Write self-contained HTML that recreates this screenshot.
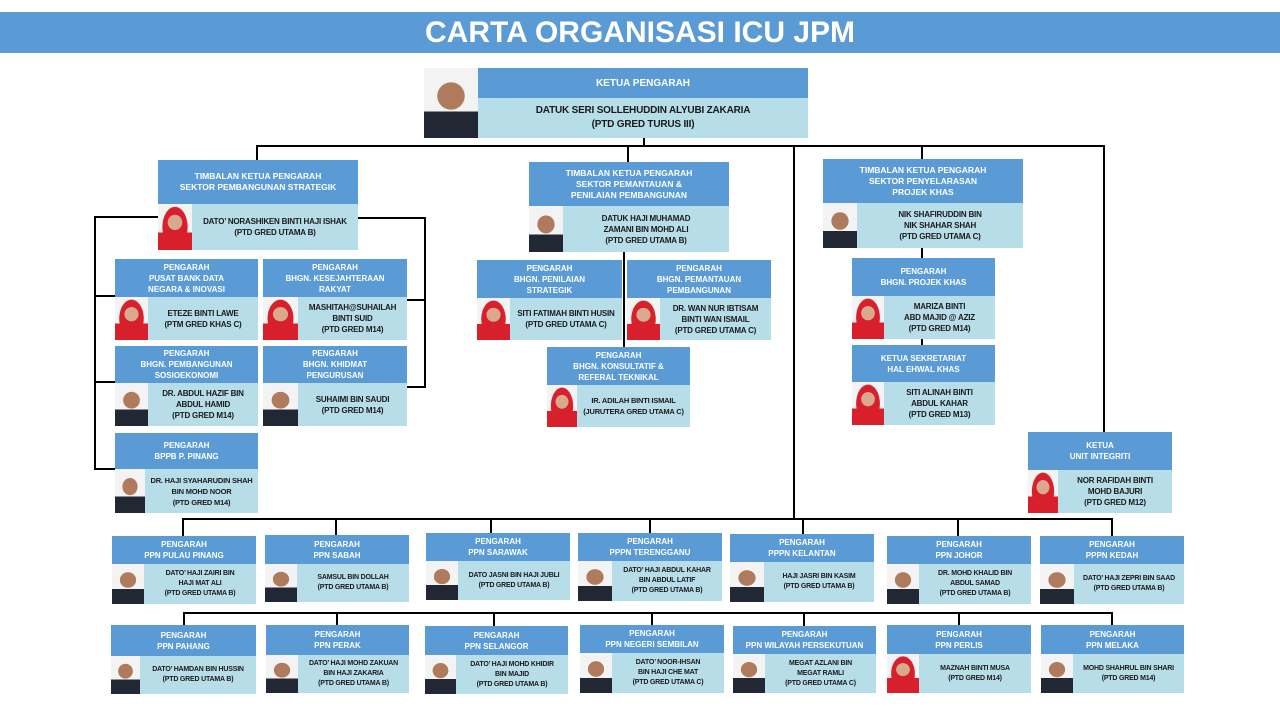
<!DOCTYPE html>
<html><head><meta charset="utf-8"><style>
*{margin:0;padding:0;box-sizing:border-box}
body{width:1280px;height:720px;background:#fff;position:relative;overflow:hidden;font-family:"Liberation Sans",sans-serif;font-weight:bold}
.t{position:absolute;left:0;top:12px;width:1280px;height:41px;background:#5b9bd5;color:#fff;font-size:30px;text-align:center;line-height:41px}
.c{position:absolute}
.h{background:#5b9bd5;color:#fff;font-size:8px;line-height:11px;text-align:center;display:flex;align-items:center;justify-content:center}
.b{background:#b7dde8;color:#1a1a1a;font-size:8px;line-height:11px;text-align:center;display:flex;align-items:center;position:relative;letter-spacing:-0.2px}
.b .x{flex:1;text-align:center;white-space:nowrap}
.p{height:100%;flex:none;background:radial-gradient(ellipse 26% 20% at 50% 40%,#b07a5c 0 95%,transparent 100%),linear-gradient(to bottom,#f3f3f3 62%,#222833 62%)}
.f{background:radial-gradient(ellipse 22% 17% at 50% 40%,#d9a98e 0 95%,transparent 100%),radial-gradient(ellipse 38% 45% at 50% 50%,#d8202c 0 95%,transparent 100%),linear-gradient(to bottom,#f3f3f3 62%,#d8202c 62%)}
.l{position:absolute;background:#000}
</style></head><body>
<div class="t">CARTA ORGANISASI ICU JPM</div>

<div class="l" style="left:643px;top:138px;width:2px;height:9px"></div>
<div class="l" style="left:257px;top:145px;width:848px;height:2px"></div>
<div class="l" style="left:256px;top:145px;width:2px;height:16px"></div>
<div class="l" style="left:627px;top:145px;width:2px;height:18px"></div>
<div class="l" style="left:793px;top:145px;width:2px;height:375px"></div>
<div class="l" style="left:921px;top:145px;width:2px;height:15px"></div>
<div class="l" style="left:1103px;top:145px;width:2px;height:288px"></div>
<div class="l" style="left:94px;top:216px;width:2px;height:254px"></div>
<div class="l" style="left:94px;top:216px;width:64px;height:2px"></div>
<div class="l" style="left:94px;top:295px;width:21px;height:2px"></div>
<div class="l" style="left:94px;top:381px;width:21px;height:2px"></div>
<div class="l" style="left:94px;top:468px;width:21px;height:2px"></div>
<div class="l" style="left:424px;top:217px;width:2px;height:171px"></div>
<div class="l" style="left:358px;top:217px;width:67px;height:2px"></div>
<div class="l" style="left:407px;top:299px;width:18px;height:2px"></div>
<div class="l" style="left:407px;top:386px;width:18px;height:2px"></div>
<div class="l" style="left:623px;top:252px;width:2px;height:96px"></div>
<div class="l" style="left:921px;top:248px;width:2px;height:11px"></div>
<div class="l" style="left:921px;top:339px;width:2px;height:7px"></div>
<div class="l" style="left:182px;top:518px;width:931px;height:2px"></div>
<div class="l" style="left:182px;top:518px;width:2px;height:18px"></div>
<div class="l" style="left:335px;top:518px;width:2px;height:18px"></div>
<div class="l" style="left:490px;top:518px;width:2px;height:16px"></div>
<div class="l" style="left:649px;top:518px;width:2px;height:16px"></div>
<div class="l" style="left:802px;top:518px;width:2px;height:17px"></div>
<div class="l" style="left:957px;top:518px;width:2px;height:18px"></div>
<div class="l" style="left:1111px;top:518px;width:2px;height:18px"></div>
<div class="l" style="left:183px;top:612px;width:930px;height:2px"></div>
<div class="l" style="left:183px;top:612px;width:2px;height:13px"></div>
<div class="l" style="left:336px;top:612px;width:2px;height:13px"></div>
<div class="l" style="left:493px;top:612px;width:2px;height:14px"></div>
<div class="l" style="left:651px;top:612px;width:2px;height:13px"></div>
<div class="l" style="left:803px;top:612px;width:2px;height:14px"></div>
<div class="l" style="left:958px;top:612px;width:2px;height:13px"></div>
<div class="l" style="left:1111px;top:612px;width:2px;height:13px"></div>

<div class="p" style="position:absolute;left:424px;top:68px;width:54px;height:70px"></div>
<div class="c" style="left:478px;top:68px;width:330px">
<div class="h" style="height:30px;font-size:10px">KETUA PENGARAH</div>
<div class="b" style="height:40px;font-size:10px;line-height:14px"><div class="x">DATUK SERI SOLLEHUDDIN ALYUBI ZAKARIA<br>(PTD GRED TURUS III)</div></div></div>

<div class="c" style="left:158px;top:160px;width:200px"><div class="h" style="height:44px;font-size:8.5px">TIMBALAN KETUA PENGARAH<br>SEKTOR PEMBANGUNAN STRATEGIK</div>
<div class="b" style="height:46px"><div class="p f" style="width:34px"></div><div class="x">DATO’ NORASHIKEN BINTI HAJI ISHAK<br>(PTD GRED UTAMA B)</div></div></div>
<div class="c" style="left:529px;top:162px;width:200px"><div class="h" style="height:44px;font-size:8.5px">TIMBALAN KETUA PENGARAH<br>SEKTOR PEMANTAUAN &amp;<br>PENILAIAN PEMBANGUNAN</div>
<div class="b" style="height:46px"><div class="p" style="width:34px"></div><div class="x">DATUK HAJI MUHAMAD<br>ZAMANI BIN MOHD ALI<br>(PTD GRED UTAMA B)</div></div></div>
<div class="c" style="left:823px;top:159px;width:200px"><div class="h" style="height:44px;font-size:8.5px">TIMBALAN KETUA PENGARAH<br>SEKTOR PENYELARASAN<br>PROJEK KHAS</div>
<div class="b" style="height:45px"><div class="p" style="width:34px"></div><div class="x">NIK SHAFIRUDDIN BIN<br>NIK SHAHAR SHAH<br>(PTD GRED UTAMA C)</div></div></div>

<div class="c" style="left:115px;top:259px;width:143px"><div class="h" style="height:38px">PENGARAH<br>PUSAT BANK DATA<br>NEGARA &amp; INOVASI</div>
<div class="b" style="height:43px"><div class="p f" style="width:33px"></div><div class="x">ETEZE BINTI LAWE<br>(PTM GRED KHAS C)</div></div></div>
<div class="c" style="left:263px;top:259px;width:144px"><div class="h" style="height:38px">PENGARAH<br>BHGN. KESEJAHTERAAN<br>RAKYAT</div>
<div class="b" style="height:43px"><div class="p f" style="width:35px"></div><div class="x">MASHITAH@SUHAILAH<br>BINTI SUID<br>(PTD GRED M14)</div></div></div>
<div class="c" style="left:115px;top:346px;width:143px"><div class="h" style="height:37px">PENGARAH<br>BHGN. PEMBANGUNAN<br>SOSIOEKONOMI</div>
<div class="b" style="height:43px"><div class="p" style="width:33px"></div><div class="x">DR. ABDUL HAZIF BIN<br>ABDUL HAMID<br>(PTD GRED M14)</div></div></div>
<div class="c" style="left:263px;top:346px;width:144px"><div class="h" style="height:37px">PENGARAH<br>BHGN. KHIDMAT<br>PENGURUSAN</div>
<div class="b" style="height:43px"><div class="p" style="width:35px"></div><div class="x">SUHAIMI BIN SAUDI<br>(PTD GRED M14)</div></div></div>
<div class="c" style="left:115px;top:433px;width:143px"><div class="h" style="height:36px">PENGARAH<br>BPPB P. PINANG</div>
<div class="b" style="height:44px;font-size:7.5px"><div class="p" style="width:30px"></div><div class="x">DR. HAJI SYAHARUDIN SHAH<br>BIN MOHD NOOR<br>(PTD GRED M14)</div></div></div>

<div class="c" style="left:477px;top:260px;width:145px"><div class="h" style="height:38px">PENGARAH<br>BHGN. PENILAIAN<br>STRATEGIK</div>
<div class="b" style="height:42px"><div class="p f" style="width:33px"></div><div class="x">SITI FATIMAH BINTI HUSIN<br>(PTD GRED UTAMA C)</div></div></div>
<div class="c" style="left:627px;top:260px;width:144px"><div class="h" style="height:38px">PENGARAH<br>BHGN. PEMANTAUAN<br>PEMBANGUNAN</div>
<div class="b" style="height:42px"><div class="p f" style="width:33px"></div><div class="x">DR. WAN NUR IBTISAM<br>BINTI WAN ISMAIL<br>(PTD GRED UTAMA C)</div></div></div>
<div class="c" style="left:547px;top:347px;width:143px"><div class="h" style="height:38px">PENGARAH<br>BHGN. KONSULTATIF &amp;<br>REFERAL TEKNIKAL</div>
<div class="b" style="height:42px;font-size:7.5px"><div class="p f" style="width:30px"></div><div class="x">IR. ADILAH BINTI ISMAIL<br>(JURUTERA GRED UTAMA C)</div></div></div>

<div class="c" style="left:852px;top:258px;width:143px"><div class="h" style="height:38px">PENGARAH<br>BHGN. PROJEK KHAS</div>
<div class="b" style="height:43px"><div class="p f" style="width:32px"></div><div class="x">MARIZA BINTI<br>ABD MAJID @ AZIZ<br>(PTD GRED M14)</div></div></div>
<div class="c" style="left:852px;top:345px;width:143px"><div class="h" style="height:37px">KETUA SEKRETARIAT<br>HAL EHWAL KHAS</div>
<div class="b" style="height:43px"><div class="p f" style="width:32px"></div><div class="x">SITI ALINAH BINTI<br>ABDUL KAHAR<br>(PTD GRED M13)</div></div></div>
<div class="c" style="left:1028px;top:432px;width:144px"><div class="h" style="height:38px">KETUA<br>UNIT INTEGRITI</div>
<div class="b" style="height:43px"><div class="p f" style="width:30px"></div><div class="x">NOR RAFIDAH BINTI<br>MOHD BAJURI<br>(PTD GRED M12)</div></div></div>

<div class="c" style="left:112px;top:536px;width:144px"><div class="h" style="height:28px">PENGARAH<br>PPN PULAU PINANG</div>
<div class="b" style="height:40px;font-size:7px;line-height:10px"><div class="p" style="width:32px"></div><div class="x">DATO’ HAJI ZAIRI BIN<br>HAJI MAT ALI<br>(PTD GRED UTAMA B)</div></div></div>
<div class="c" style="left:265px;top:535px;width:144px"><div class="h" style="height:29px">PENGARAH<br>PPN SABAH</div>
<div class="b" style="height:38px;font-size:7px;line-height:10px"><div class="p" style="width:32px"></div><div class="x">SAMSUL BIN DOLLAH<br>(PTD GRED UTAMA B)</div></div></div>
<div class="c" style="left:426px;top:533px;width:144px"><div class="h" style="height:28px">PENGARAH<br>PPN SARAWAK</div>
<div class="b" style="height:39px;font-size:7px;line-height:10px"><div class="p" style="width:32px"></div><div class="x">DATO JASNI BIN HAJI JUBLI<br>(PTD GRED UTAMA B)</div></div></div>
<div class="c" style="left:578px;top:533px;width:144px"><div class="h" style="height:28px">PENGARAH<br>PPPN TERENGGANU</div>
<div class="b" style="height:40px;font-size:7px;line-height:10px"><div class="p" style="width:34px"></div><div class="x">DATO’ HAJI ABDUL KAHAR<br>BIN ABDUL LATIF<br>(PTD GRED UTAMA B)</div></div></div>
<div class="c" style="left:730px;top:534px;width:144px"><div class="h" style="height:28px">PENGARAH<br>PPPN KELANTAN</div>
<div class="b" style="height:40px;font-size:7px;line-height:10px"><div class="p" style="width:34px"></div><div class="x">HAJI JASRI BIN KASIM<br>(PTD GRED UTAMA B)</div></div></div>
<div class="c" style="left:887px;top:536px;width:144px"><div class="h" style="height:28px">PENGARAH<br>PPN JOHOR</div>
<div class="b" style="height:40px;font-size:7px;line-height:10px"><div class="p" style="width:32px"></div><div class="x">DR. MOHD KHALID BIN<br>ABDUL SAMAD<br>(PTD GRED UTAMA B)</div></div></div>
<div class="c" style="left:1040px;top:536px;width:144px"><div class="h" style="height:28px">PENGARAH<br>PPPN KEDAH</div>
<div class="b" style="height:40px;font-size:7px;line-height:10px"><div class="p" style="width:34px"></div><div class="x">DATO’ HAJI ZEPRI BIN SAAD<br>(PTD GRED UTAMA B)</div></div></div>

<div class="c" style="left:111px;top:625px;width:145px"><div class="h" style="height:31px">PENGARAH<br>PPN PAHANG</div>
<div class="b" style="height:38px;font-size:7px;line-height:10px"><div class="p" style="width:29px"></div><div class="x">DATO’ HAMDAN BIN HUSSIN<br>(PTD GRED UTAMA B)</div></div></div>
<div class="c" style="left:266px;top:625px;width:143px"><div class="h" style="height:30px">PENGARAH<br>PPN PERAK</div>
<div class="b" style="height:38px;font-size:7px;line-height:10px"><div class="p" style="width:32px"></div><div class="x">DATO’ HAJI MOHD ZAKUAN<br>BIN HAJI ZAKARIA<br>(PTD GRED UTAMA B)</div></div></div>
<div class="c" style="left:425px;top:626px;width:143px"><div class="h" style="height:29px">PENGARAH<br>PPN SELANGOR</div>
<div class="b" style="height:39px;font-size:7px;line-height:10px"><div class="p" style="width:31px"></div><div class="x">DATO’ HAJI MOHD KHIDIR<br>BIN MAJID<br>(PTD GRED UTAMA B)</div></div></div>
<div class="c" style="left:580px;top:625px;width:144px"><div class="h" style="height:28px">PENGARAH<br>PPN NEGERI SEMBILAN</div>
<div class="b" style="height:40px;font-size:7px;line-height:10px"><div class="p" style="width:32px"></div><div class="x">DATO’ NOOR-IHSAN<br>BIN HAJI CHE MAT<br>(PTD GRED UTAMA C)</div></div></div>
<div class="c" style="left:733px;top:626px;width:143px"><div class="h" style="height:28px">PENGARAH<br>PPN WILAYAH PERSEKUTUAN</div>
<div class="b" style="height:39px;font-size:7px;line-height:10px"><div class="p" style="width:32px"></div><div class="x">MEGAT AZLANI BIN<br>MEGAT RAMLI<br>(PTD GRED UTAMA C)</div></div></div>
<div class="c" style="left:887px;top:625px;width:144px"><div class="h" style="height:29px">PENGARAH<br>PPN PERLIS</div>
<div class="b" style="height:39px;font-size:7px;line-height:10px"><div class="p f" style="width:32px"></div><div class="x">MAZNAH BINTI MUSA<br>(PTD GRED M14)</div></div></div>
<div class="c" style="left:1041px;top:625px;width:143px"><div class="h" style="height:29px">PENGARAH<br>PPN MELAKA</div>
<div class="b" style="height:39px;font-size:7px;line-height:10px"><div class="p" style="width:32px"></div><div class="x">MOHD SHAHRUL BIN SHARI<br>(PTD GRED M14)</div></div></div>
</body></html>
